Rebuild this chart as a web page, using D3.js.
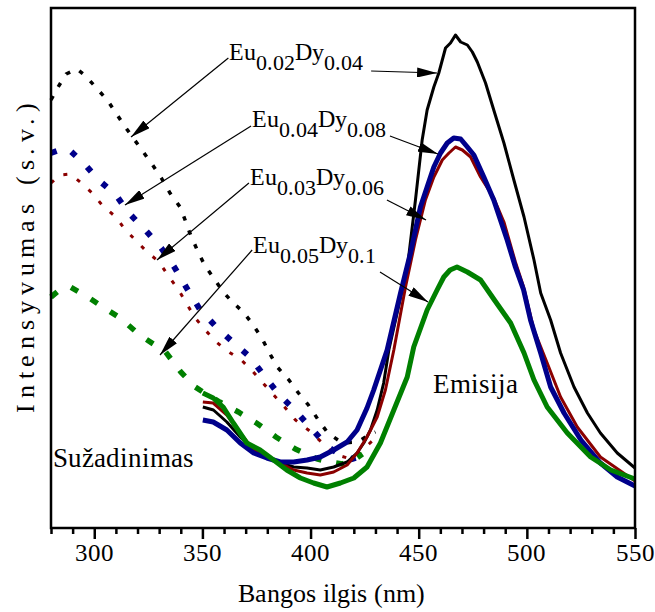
<!DOCTYPE html>
<html><head><meta charset="utf-8"><script src="https://cdn.jsdelivr.net/npm/d3@7"></script>
<style>
  @font-face { font-family: "ChartSerif"; src: local("Liberation Serif"), local("LiberationSerif-Regular"), local("Times New Roman"); }
  body { margin: 0; }
  .lbl { font-family: "ChartSerif", "Liberation Serif", Times, serif; }
</style>
</head>
<body>
<script>
var width = 655,
    height = 612;

// x ticks (nm)
var majorTicks = [300, 350, 400, 450, 500, 550];
var minorTicks = [280, 290, 310, 320, 330, 340, 360, 370, 380, 390, 410, 420, 430, 440, 460, 470, 480, 490, 510, 520, 530, 540];

// excitation spectra (dotted) - wavelength nm, intensity a.u.
var exWl1 = [280, 283, 287, 292, 296, 301, 306, 310, 314, 318, 323, 327, 331, 335, 340, 344, 348, 351, 355.5, 359.6, 364.3, 368.9, 373.5, 377.7, 381, 384.6, 390, 394.4, 399, 403.6, 408, 414.7, 421.7, 427.7, 430];
var exI1  = [428, 440, 454, 459, 452, 440, 428, 415, 402, 390, 375, 363, 350, 335, 320, 296, 276, 263, 249, 236, 225, 216, 203, 189, 175, 161, 148, 135, 123, 108, 95, 85, 86, 94, 96];

var exWl2 = [280, 284, 288, 295, 302, 310, 316, 324, 331, 337, 343, 349, 356, 364, 372, 379, 385.6, 394, 401, 408, 414, 419, 424, 427];
var exI2  = [375, 378, 379, 365, 348, 333, 315, 297, 280, 261, 239, 218, 202, 186, 171, 151, 133, 115, 98, 81, 73, 69, 72, 78];

var exWl3 = [280, 284, 289, 294, 299, 304, 310, 314, 319, 324, 330, 334, 339, 342.5, 346.7, 351.3, 356.4, 361.5, 368, 373.5, 378, 383, 388, 393, 399, 405, 411, 417, 423, 427, 430];
var exI3  = [345, 353, 354, 345, 335, 322, 311, 299, 288, 277, 266, 253, 238, 225, 210, 198, 186, 177, 168, 156, 145, 133, 121, 108, 98, 86, 74, 70, 76, 84, 90];

var exWl4 = [280, 284, 289, 297, 304, 312, 321, 328, 333, 340, 346.7, 351, 358, 366.6, 375, 384, 393, 403, 409, 414.7, 420, 424];
var exI4  = [231, 238, 241, 231, 221, 210, 193, 183, 176, 156, 141, 135, 126, 116, 105, 91, 79, 69, 66, 64, 68, 74];

// emission spectra (solid)
var emWl1 = [350.2, 355.1, 361.3, 367.5, 373.7, 379.8, 386, 392.2, 398.4, 404.5, 410.7, 416.9, 421.5, 424.6, 427.7, 430.8, 433.8, 436.2, 442.4, 444.8, 448.5, 451.6, 453.9, 457, 459.3, 462.4, 464.7, 467, 469.4, 472.5, 474.8, 477.1, 480.9, 484.7, 489.4, 494, 498.7, 503.3, 506.4, 511, 515.6, 521.8, 528, 534, 541.8, 550];
var emI1  = [121, 118, 106, 91, 78, 71, 65, 61, 60, 58, 61, 66, 75, 85, 98, 118, 145, 178, 238, 261, 328, 388, 418, 441, 455, 480, 485, 493, 486, 483, 476, 466, 445, 418, 385, 348, 311, 268, 235, 208, 175, 141, 115, 95, 75, 60];

var emWl2 = [350.2, 355, 361.3, 367.5, 373.7, 379.8, 386, 392.2, 398.4, 404.5, 410.7, 416.9, 421.5, 426.1, 429.2, 432.3, 435.4, 441.6, 446.2, 450.8, 453.9, 457, 460.1, 463.2, 466.2, 469.4, 472.5, 475.5, 480.1, 484.7, 487.8, 490.9, 494.7, 498.5, 501.7, 506.4, 511, 517.2, 525, 534, 541.8, 550];
var emI2  = [108, 106, 98, 85, 75, 70, 66, 66, 68, 71, 78, 86, 98, 120, 138, 158, 178, 235, 275, 321, 341, 361, 375, 385, 390, 389, 381, 373, 351, 328, 308, 288, 261, 238, 208, 175, 141, 115, 88, 65, 51, 42];

var emWl3 = [350.2, 355, 361.3, 367.5, 373.7, 379.8, 386, 392.2, 398.4, 404.5, 410.7, 416.9, 421.5, 426.1, 430.8, 434.6, 438.5, 443.9, 448.5, 453.1, 457, 460.9, 464, 467, 470.2, 474, 478.6, 484.7, 489.4, 494.7, 498.5, 503.3, 509.4, 515.6, 523.3, 534, 550];
var emI3  = [126, 125, 113, 95, 78, 71, 65, 58, 55, 53, 56, 63, 75, 91, 111, 138, 178, 241, 288, 328, 351, 368, 375, 381, 378, 371, 351, 330, 306, 266, 241, 198, 165, 131, 101, 71, 47];

var emWl4 = [350.2, 355, 359.6, 364.3, 370.5, 376.7, 382.9, 389, 395.3, 401.4, 407.6, 413.8, 420, 426.1, 432.3, 438.5, 444.7, 447.7, 453.9, 458.5, 461.6, 464.5, 467.7, 472.5, 478.6, 485, 492.5, 498.7, 503.3, 509.4, 518.7, 529.5, 538.8, 550];
var emI4  = [135, 130, 121, 105, 85, 78, 68, 58, 50, 45, 41, 45, 50, 61, 85, 118, 151, 181, 218, 238, 251, 258, 261, 256, 248, 228, 205, 175, 148, 121, 95, 71, 58, 49];

var names = ["Eu", "Dy"];
var subs1 = ["0.02", "0.04"], subs2 = ["0.04", "0.08"], subs3 = ["0.03", "0.06"], subs4 = ["0.05", "0.1"];

var colors = ["#000000", "#00008b", "#8b0000", "#008000"];

var svg = d3.select("body").append("svg")
    .attr("width", width)
    .attr("height", height);

var x = d3.scaleLinear().domain([280, 550]).range([51, 635]);
var y = d3.scaleLinear().domain([0, 520]).range([528, 8]);

var line = d3.line()
    .x(function(d) { return x(d[0]); })
    .y(function(d) { return y(d[1]); });

function pairs(a, b) { return a.map(function(v, i) { return [v, b[i]]; }); }

function label(px, py, size) {
  return svg.append("text")
      .attr("class", "lbl")
      .attr("x", px).attr("y", py)
      .attr("font-size", size);
}

// excitation (dotted)
var excitation = [
  {d: pairs(exWl1, exI1), c: colors[0], w: 3.5, dash: "4.5 10.5"},
  {d: pairs(exWl3, exI3), c: colors[2], w: 3, dash: "4 11.5"},
  {d: pairs(exWl2, exI2), c: colors[1], w: 6, dash: "6 16"},
  {d: pairs(exWl4, exI4), c: colors[3], w: 5.5, dash: "8 15"}
];
svg.append("g").selectAll("path")
    .data(excitation)
    .enter()
    .append("path")
    .attr("d", function(s) { return line(s.d); })
    .attr("fill", "none")
    .attr("stroke", function(s) { return s.c; })
    .attr("stroke-width", function(s) { return s.w; })
    .attr("stroke-dasharray", function(s) { return s.dash; });

// emission (solid)
var emission = [
  {d: pairs(emWl1, emI1), c: colors[0], w: 3},
  {d: pairs(emWl3, emI3), c: colors[2], w: 3},
  {d: pairs(emWl2, emI2), c: colors[1], w: 5},
  {d: pairs(emWl4, emI4), c: colors[3], w: 5}
];
svg.append("g").selectAll("path")
    .data(emission)
    .enter()
    .append("path")
    .attr("d", function(s) { return line(s.d); })
    .attr("fill", "none")
    .attr("stroke", function(s) { return s.c; })
    .attr("stroke-width", function(s) { return s.w; })
    .attr("stroke-linejoin", "round");

// frame
svg.append("rect")
    .attr("x", 51).attr("y", 8)
    .attr("width", 584).attr("height", 520)
    .attr("fill", "none")
    .attr("stroke", "#000")
    .attr("stroke-width", 2.5);

// x axis ticks
var xAxis = svg.append("g")
    .attr("transform", "translate(0,528)")
    .call(d3.axisBottom(x).tickValues(majorTicks).tickSize(11).tickFormat(""));
xAxis.select(".domain").remove();
xAxis.selectAll("line").attr("stroke-width", 2.5);

var xMinor = svg.append("g")
    .attr("transform", "translate(0,528)")
    .call(d3.axisBottom(x).tickValues(minorTicks).tickSize(6).tickFormat(""));
xMinor.select(".domain").remove();
xMinor.selectAll("line").attr("stroke-width", 2.5);

majorTicks.forEach(function(v) {
  label(x(v), 561, 25).attr("text-anchor", "middle").text(v);
});

label(331, 602, 26).attr("text-anchor", "middle").text("Bangos ilgis (nm)");

label(0, 0, 26)
    .attr("transform", "translate(34,258) rotate(-90)")
    .attr("text-anchor", "middle")
    .attr("textLength", 310)
    .attr("lengthAdjust", "spacing")
    .text("Intensyvumas (s.v.)");

label(53, 467, 27).text("Sužadinimas");
label(433, 393, 27).text("Emisija");

// arrow markers
svg.append("defs").append("marker")
    .attr("id", "arrow")
    .attr("viewBox", "0 0 20 10")
    .attr("refX", 20).attr("refY", 5)
    .attr("markerWidth", 20).attr("markerHeight", 10)
    .attr("markerUnits", "userSpaceOnUse")
    .attr("orient", "auto")
    .append("path")
    .attr("d", "M0,0L20,5L0,10Z")
    .attr("fill", "#000");

// annotations: label anchor (nm, a.u.), left arrow from/to, right arrow from/to
var notes = [
  {subs: subs1, at: [362.3, 468], l: [[362, 470], [317, 391]], r: [[428, 457], [458.5, 455]]},
  {subs: subs2, at: [372.9, 401], l: [[372.5, 402], [314.2, 323]], r: [[436.7, 392], [458.9, 374]]},
  {subs: subs3, at: [372, 343], l: [[371.5, 345], [329, 268]], r: [[435.3, 328], [453.4, 308]]},
  {subs: subs4, at: [373.4, 275], l: [[373, 278], [330.4, 173]], r: [[432.1, 256], [454.3, 226]]}
];

notes.forEach(function(a) {
  var t = label(x(a.at[0]), y(a.at[1]), 24);
  names.forEach(function(n, i) {
    t.append("tspan").attr("dy", i === 0 ? 0 : -10).text(n);
    t.append("tspan").attr("dy", 10).attr("font-size", 22).text(a.subs[i]);
  });
  [a.l, a.r].forEach(function(seg) {
    svg.append("line")
        .attr("x1", x(seg[0][0])).attr("y1", y(seg[0][1]))
        .attr("x2", x(seg[1][0])).attr("y2", y(seg[1][1]))
        .attr("stroke", "#000")
        .attr("stroke-width", 1.2)
        .attr("marker-end", "url(#arrow)");
  });
});
</script>
</body></html>
